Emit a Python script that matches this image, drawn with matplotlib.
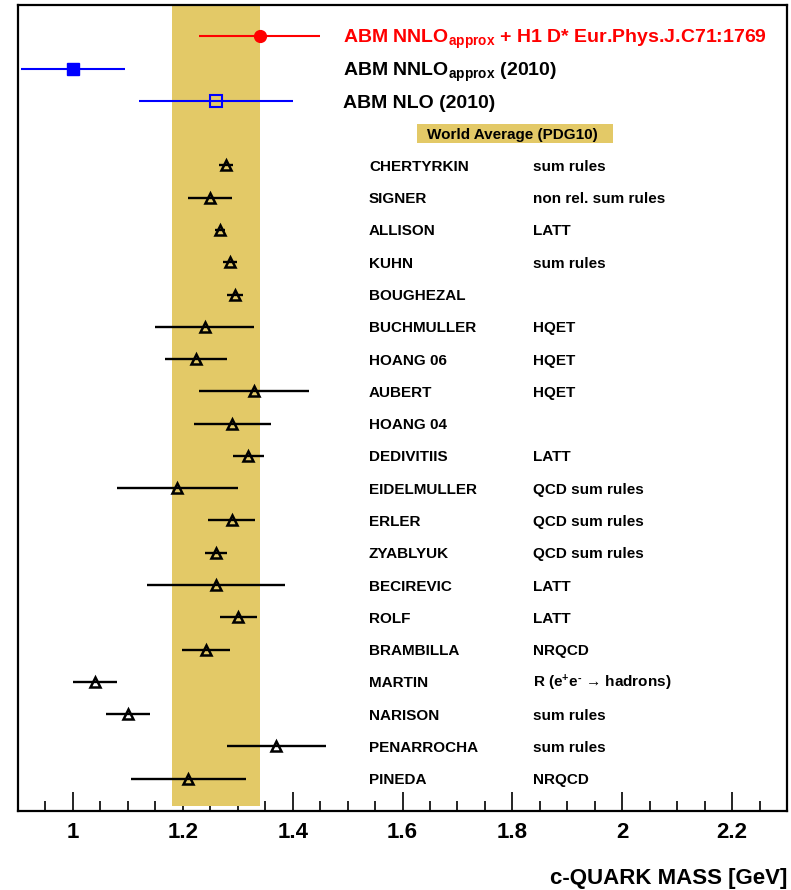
import matplotlib
matplotlib.use('Agg')
import matplotlib.pyplot as plt
from matplotlib.patches import Rectangle
from matplotlib.ticker import MultipleLocator, FixedLocator

plt.rcParams['font.family'] = ['Liberation Sans', 'DejaVu Sans']
plt.rcParams['font.weight'] = 'bold'
plt.rcParams['mathtext.fontset'] = 'custom'
plt.rcParams['mathtext.rm'] = 'Liberation Sans:bold'
plt.rcParams['mathtext.it'] = 'Liberation Sans:bold'
plt.rcParams['mathtext.bf'] = 'Liberation Sans:bold'

# world average band (PDG10)
wa_lo, wa_hi = 1.18, 1.34

# fit results: value, lower err, upper err
abm_h1 = (1.34, 0.11, 0.11)
abm_nnlo = (1.00, 0.095, 0.095)
abm_nlo = (1.26, 0.14, 0.14)

# individual determinations, top to bottom
names = ['CHERTYRKIN', 'SIGNER', 'ALLISON', 'KUHN', 'BOUGHEZAL', 'BUCHMULLER',
         'HOANG 06', 'AUBERT', 'HOANG 04', 'DEDIVITIIS', 'EIDELMULLER', 'ERLER',
         'ZYABLYUK', 'BECIREVIC', 'ROLF', 'BRAMBILLA', 'MARTIN', 'NARISON',
         'PENARROCHA', 'PINEDA']
methods = ['sum rules', 'non rel. sum rules', 'LATT', 'sum rules', '', 'HQET',
           'HQET', 'HQET', '', 'LATT', 'QCD sum rules', 'QCD sum rules',
           'QCD sum rules', 'LATT', 'LATT', 'NRQCD',
           'R (e$^{+}$e$^{\\text{-}}$ \u2192 hadrons)', 'sum rules', 'sum rules',
           'NRQCD']
mc = [1.279, 1.25, 1.268, 1.286, 1.295, 1.24, 1.224, 1.33, 1.29, 1.319,
      1.19, 1.289, 1.26, 1.26, 1.301, 1.242, 1.04, 1.10, 1.37, 1.21]
err = [0.013, 0.04, 0.009, 0.013, 0.015, 0.09, 0.057, 0.10, 0.07, 0.028,
       0.11, 0.043, 0.02, 0.126, 0.034, 0.044, 0.04, 0.04, 0.09, 0.105]

fig = plt.figure(figsize=(7.91, 8.9), dpi=100)
ax = fig.add_axes([0.02276, 0.08876, 0.97218, 0.90562])
ax.set_xlim(0.9, 2.3)
ax.set_ylim(24.0, -0.97)
ax.set_axisbelow(True)

ax.axvspan(wa_lo, wa_hi, ymin=0.0062, ymax=1, color='#e3c967', lw=0, zorder=1)

# ABM points
ax.errorbar(abm_h1[0], 0, xerr=[[abm_h1[1]], [abm_h1[2]]], fmt='o', color='red',
            ms=8.5, lw=1.5, capsize=0, zorder=3)
ax.errorbar(abm_nnlo[0], 1, xerr=[[abm_nnlo[1]], [abm_nnlo[2]]], fmt='s', color='blue',
            ms=8.5, lw=1.5, capsize=0, zorder=3)
ax.errorbar(abm_nlo[0], 2, xerr=[[abm_nlo[1]], [abm_nlo[2]]], fmt='s', color='blue',
            mfc='none', mec='blue', mew=1.5, ms=8, lw=1.5, capsize=0, zorder=3)

rows = [4 + i for i in range(len(names))]
ax.errorbar(mc, rows, xerr=err, fmt='^', color='black', mfc='none', mec='black',
            mew=1.8, ms=7.5, lw=1.7, capsize=0, zorder=3)

# labels (baseline placed so the capitals sit centred on the row)
ax.text(1.491, 0.22, r'ABM NNLO$_{\mathrm{approx}}$ + H1 D* Eur.Phys.J.C71:1769',
        color='red', fontsize=14, va='baseline')
ax.text(1.491, 1.22, r'ABM NNLO$_{\mathrm{approx}}$ (2010)', fontsize=14, va='baseline')
ax.text(1.491, 2.22, 'ABM NLO (2010)', fontsize=14, va='baseline')
ax.add_patch(Rectangle((1.626, 2.72), 0.357, 0.59, color='#e3c967', lw=0, zorder=2))
ax.text(1.644, 3.18, 'World Average (PDG10)', fontsize=11, va='baseline', zorder=3)

for r, n, m in zip(rows, names, methods):
    ax.text(1.539, r + 0.17, n, fontsize=11, va='baseline')
    if m:
        ax.text(1.8376, r + 0.17, m, fontsize=11, va='baseline')

# axes cosmetics
for s in ax.spines.values():
    s.set_linewidth(1.6)
ax.yaxis.set_visible(False)
ax.xaxis.set_major_locator(FixedLocator([1.0, 1.2, 1.4, 1.6, 1.8, 2.0, 2.2]))
ax.xaxis.set_minor_locator(MultipleLocator(0.05))
ax.tick_params(axis='x', which='major', direction='in', length=14, width=1.2,
               labelsize=16, pad=8, top=False)
ax.tick_params(axis='x', which='minor', direction='in', length=7, width=1.2, top=False)
ax.set_xticklabels(['1', '1.2', '1.4', '1.6', '1.8', '2', '2.2'])
ax.set_xlabel('c-QUARK MASS [GeV]', fontsize=16, fontweight='bold', loc='right',
              labelpad=18)

fig.savefig('out.png', dpi=100)
